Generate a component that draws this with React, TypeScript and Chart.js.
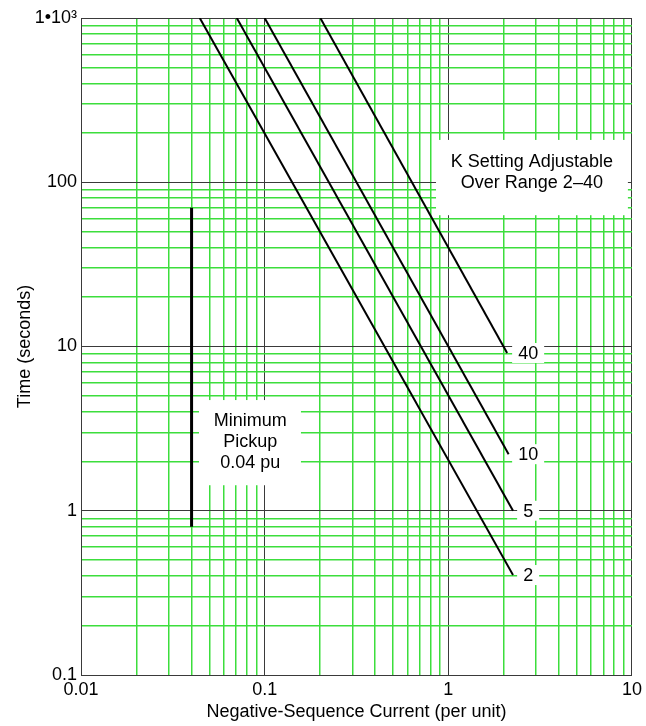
import React, { useEffect, useRef } from 'react';
import { Chart, registerables } from 'chart.js';

Chart.register(...registerables);

// K-setting curves (start at top of chart, end near 2.1-2.25 pu)
const kSettingLabels = ['2', '5', '10', '40'];
const curveStartCurrent = [0.0443, 0.0705, 0.1, 0.201];
const curveStartTime = [1000, 1000, 1000, 1000];
const curveEndCurrent = [2.25, 2.25, 2.13, 2.09];
const curveEndTime = [0.406, 1.0, 2.21, 9.13];
const curveLabelCurrent = 2.72;

// Minimum pickup bar
const pickupCurrent = [0.04, 0.04];
const pickupTime = [0.8, 70];

// Axis ticks
const xDecades = [0.01, 0.1, 1, 10];
const xDecadeLabels = ['0.01', '0.1', '1', '10'];
const yDecades = [0.1, 1, 10, 100, 1000];
const yDecadeLabels = ['0.1', '1', '10', '100', '1\u202210\u00B3'];
const minorSteps = [2, 3, 4, 5, 6, 7, 8, 9];

// Notes (data coordinates)
const kNoteLines = ['K Setting Adjustable', 'Over Range 2\u201340'];
const kNoteLineTimes = [133, 99];
const kNoteCurrent = 2.85;
const kNoteBoxCurrent = [0.857, 9.5];
const kNoteBoxTime = [63, 181];

const pickupNoteLines = ['Minimum', 'Pickup', '0.04 pu'];
const pickupNoteLineTimes = [3.52, 2.62, 1.95];
const pickupNoteCurrent = 0.0834;
const pickupNoteBoxCurrent = [0.0439, 0.1576];
const pickupNoteBoxTime = [1.43, 4.72];

const FONT_FAMILY = 'Arial, "Liberation Sans", Helvetica, sans-serif';
const MINOR_GREEN = 'rgb(60, 222, 60)';
const MAJOR_DARK = '#3a3a3a';

function buildTicks(decades: number[]) {
  const ticks: { value: number; major: boolean }[] = [];
  decades.forEach((d, i) => {
    ticks.push({ value: d, major: true });
    if (i < decades.length - 1) {
      minorSteps.forEach((m) => ticks.push({ value: +(d * m).toPrecision(6), major: false }));
    }
  });
  return ticks;
}

function labelFor(value: number, decades: number[], labels: string[]) {
  for (let i = 0; i < decades.length; i++) {
    if (Math.abs(value / decades[i] - 1) < 1e-6) return labels[i];
  }
  return '';
}

const notesPlugin = {
  id: 'notesPlugin',
  beforeDatasetsDraw(chart: any) {
    const { ctx } = chart;
    const xs = chart.scales.x;
    const ys = chart.scales.y;
    ctx.save();
    ctx.font = `18px ${FONT_FAMILY}`;
    ctx.textAlign = 'center';
    ctx.textBaseline = 'middle';

    const drawBox = (cx: number[], ty: number[]) => {
      const x0 = xs.getPixelForValue(cx[0]);
      const x1 = xs.getPixelForValue(cx[1]);
      const y0 = ys.getPixelForValue(ty[1]);
      const y1 = ys.getPixelForValue(ty[0]);
      ctx.fillStyle = '#ffffff';
      ctx.fillRect(x0, y0, x1 - x0, y1 - y0);
    };

    // K note
    drawBox(kNoteBoxCurrent, kNoteBoxTime);
    ctx.fillStyle = '#000';
    kNoteLines.forEach((t, i) => {
      ctx.fillText(t, xs.getPixelForValue(kNoteCurrent), ys.getPixelForValue(kNoteLineTimes[i]));
    });

    // Pickup note
    drawBox(pickupNoteBoxCurrent, pickupNoteBoxTime);
    ctx.fillStyle = '#000';
    pickupNoteLines.forEach((t, i) => {
      ctx.fillText(t, xs.getPixelForValue(pickupNoteCurrent), ys.getPixelForValue(pickupNoteLineTimes[i]));
    });

    // Curve labels
    kSettingLabels.forEach((t, i) => {
      const px = xs.getPixelForValue(curveLabelCurrent);
      const py = ys.getPixelForValue(curveEndTime[i]);
      const w = ctx.measureText(t).width + 12;
      ctx.fillStyle = '#ffffff';
      ctx.fillRect(px - w / 2, py - 10, w, 20);
      ctx.fillStyle = '#000';
      ctx.fillText(t, px, py + 1);
    });
    ctx.restore();
  },
};

export default function App() {
  const canvasRef = useRef<HTMLCanvasElement | null>(null);

  useEffect(() => {
    if (!canvasRef.current) return;
    const curveDatasets = kSettingLabels.map((k, i) => ({
      label: 'K=' + k,
      data: [
        { x: curveStartCurrent[i], y: curveStartTime[i] },
        { x: curveEndCurrent[i], y: curveEndTime[i] },
      ],
      showLine: true,
      borderColor: '#000',
      borderWidth: 2,
      pointRadius: 0,
      fill: false,
    }));
    const pickupDataset = {
      label: 'Minimum Pickup',
      data: pickupCurrent.map((c, i) => ({ x: c, y: pickupTime[i] })),
      showLine: true,
      borderColor: '#000',
      borderWidth: 3,
      pointRadius: 0,
      fill: false,
    };

    const gridColor = (ctx: any) => (ctx.tick && ctx.tick.major ? MAJOR_DARK : MINOR_GREEN);
    const gridWidth = (ctx: any) => (ctx.tick && ctx.tick.major ? 1 : 1.5);

    const chart = new Chart(canvasRef.current, {
      type: 'scatter',
      data: { datasets: [...curveDatasets, pickupDataset] as any },
      plugins: [notesPlugin],
      options: {
        responsive: false,
        animation: false,
        devicePixelRatio: 1,
        layout: { padding: { top: 18, right: 14, left: 0, bottom: 0 } },
        plugins: { legend: { display: false }, tooltip: { enabled: false } },
        scales: {
          x: {
            type: 'logarithmic',
            min: 0.01,
            max: 10,
            afterBuildTicks: (scale: any) => {
              scale.ticks = buildTicks(xDecades);
            },
            afterFit: (scale: any) => {
              scale.height = 51;
            },
            ticks: {
              autoSkip: false,
              maxRotation: 0,
              padding: 4,
              color: '#000',
              font: { family: FONT_FAMILY, size: 18 },
              callback: (value: any) => labelFor(Number(value), xDecades, xDecadeLabels),
            },
            grid: { color: gridColor, lineWidth: gridWidth, drawTicks: false },
            border: { display: true, color: MAJOR_DARK, width: 1 },
            title: {
              display: true,
              text: 'Negative-Sequence Current (per unit)',
              color: '#000',
              font: { family: FONT_FAMILY, size: 18 },
              padding: { top: 0, bottom: 3 },
            },
          },
          y: {
            type: 'logarithmic',
            min: 0.1,
            max: 1000,
            afterBuildTicks: (scale: any) => {
              scale.ticks = buildTicks(yDecades);
            },
            afterFit: (scale: any) => {
              scale.width = 81;
            },
            ticks: {
              autoSkip: false,
              padding: 4,
              color: '#000',
              font: { family: FONT_FAMILY, size: 18 },
              callback: (value: any) => labelFor(Number(value), yDecades, yDecadeLabels),
            },
            grid: { color: gridColor, lineWidth: gridWidth, drawTicks: false },
            border: { display: true, color: MAJOR_DARK, width: 1 },
            title: {
              display: true,
              text: 'Time (seconds)',
              color: '#000',
              font: { family: FONT_FAMILY, size: 18 },
              padding: { top: 14, bottom: 0 },
            },
          },
        },
      } as any,
    });
    return () => chart.destroy();
  }, []);

  return (
    <div style={{ position: 'absolute', left: 0, top: 0, width: 646, height: 726, background: '#fff' }}>
      <canvas ref={canvasRef} width={646} height={726} style={{ display: 'block' }} />
    </div>
  );
}
